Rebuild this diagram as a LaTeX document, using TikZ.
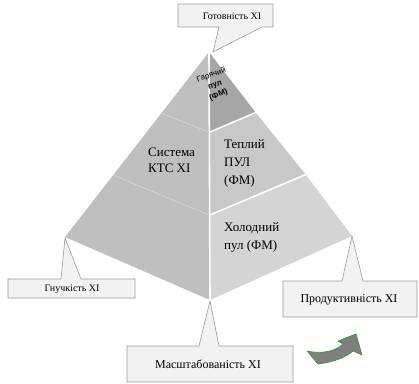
\documentclass[tikz,border=0pt]{standalone}
\usepackage{fontspec}
\setmainfont{Liberation Serif}
\newfontfamily\hotfont{Liberation Sans}
\definecolor{leftface}{HTML}{BFBFBF}
\definecolor{hotpart}{HTML}{A6A6A6}
\definecolor{warmpart}{HTML}{C8C8C8}
\definecolor{coldpart}{HTML}{D4D4D4}
\definecolor{boxfill}{HTML}{F2F2F2}
\definecolor{boxline}{HTML}{9A9A9A}
\definecolor{arrowfill}{HTML}{7F7F7F}
\definecolor{arrowline}{HTML}{3A9A3A}
\begin{document}
\begin{tikzpicture}[x=1pt,y=-1pt,
  callout/.style={fill=boxfill, draw=boxline, line width=0.6pt, line join=miter},
  calltext/.style={inner sep=0pt, font=\fontsize{10}{12}\selectfont},
  bigtext/.style={inner sep=0pt, font=\fontsize{12}{12}\selectfont},
  facetext/.style={inner sep=0pt, align=left, anchor=west}]
\useasboundingbox (0,0) rectangle (419,383);

% corners of the pyramid
\coordinate (apex) at (209,52);
\coordinate (lv) at (65,237);
\coordinate (rv) at (352,236);
\coordinate (bv) at (210,300);

% left face
\fill[leftface] (apex) -- (lv) -- (bv) -- cycle;
\draw[white, opacity=0.45, line width=0.5pt] (161,113) -- (209,132);
\draw[white, opacity=0.45, line width=0.5pt] (113,175) -- (209,215);

% right face, three bands
\fill[hotpart] (apex) -- (256,113) -- (210,132) -- cycle;
\fill[warmpart] (210,132) -- (256,113) -- (306,175) -- (210,215) -- cycle;
\fill[coldpart] (210,215) -- (306,175) -- (rv) -- (bv) -- cycle;
\draw[white, line width=1.6pt] (210,132) -- (257,112);
\draw[white, line width=1.6pt] (210,215) -- (307,174);
\draw[white, line width=1.6pt] (apex) -- (bv);

% labels on the faces
\node[facetext, font=\fontsize{13}{16}\selectfont] (sys) at (148,160) {Система\\КТС XI};
\node[facetext, font=\fontsize{13}{18}\selectfont] (warm) at (224,163) {Теплий\\ПУЛ\\(ФМ)};
\node[facetext, font=\fontsize{13}{18}\selectfont] (cold) at (224,237) {Холодний\\пул (ФМ)};
\node[inner sep=0pt, align=center, rotate=20, font=\hotfont\fontsize{8}{10.5}\selectfont] (hot) at (215,85)
  {Гарячий\\\textbf{пул}\\\textbf{(ФМ)}};

% callouts
\draw[callout] (178,4) -- (273,4) -- (273,27) -- (262,27) -- (213,52) -- (219,27) -- (178,27) -- cycle;
\node[calltext] (ready) at (232,16) {Готовність XI};

\draw[callout] (8,279) -- (61,279) -- (65,238) -- (81,279) -- (135,279) -- (135,298) -- (8,298) -- cycle;
\node[calltext] (flex) at (72,289) {Гнучкість XI};

\draw[callout] (283,281) -- (342,281) -- (352,236) -- (363,281) -- (417,281) -- (417,317) -- (283,317) -- cycle;
\node[bigtext] (perf) at (349,300) {Продуктивність XI};

\draw[callout] (127,346) -- (199,346) -- (210,301) -- (219,346) -- (293,346) -- (293,382) -- (127,382) -- cycle;
\node[bigtext] (scale) at (208,364) {Масштабованість XI};

% curved arrow
\draw[fill=arrowfill, draw=arrowline, line width=0.7pt, line join=round]
  (318,364) .. controls (333,362) and (345,358) .. (353,351)
  -- (362,355) -- (356,334) -- (338,341) -- (343,344)
  .. controls (335,352) and (320,354) .. (307,351) -- cycle;
\end{tikzpicture}
\end{document}
